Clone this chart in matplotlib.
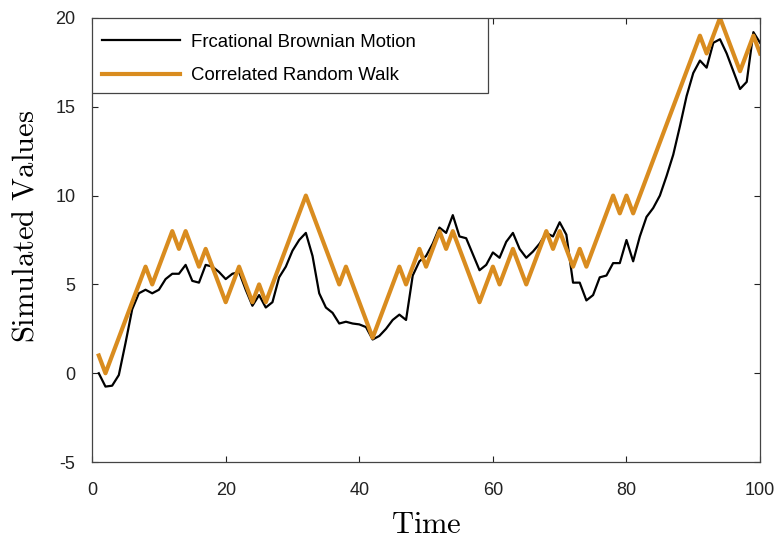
import numpy as np
import matplotlib
matplotlib.use("Agg")
import matplotlib.pyplot as plt
from matplotlib.patches import Rectangle

# time steps 1..100
time = np.arange(1, 101)

# fractional Brownian motion sample path
fbm = [
    0.0, -0.75, -0.7, -0.1, 1.7, 3.6, 4.5, 4.7, 4.5, 4.7,
    5.3, 5.6, 5.6, 6.1, 5.2, 5.1, 6.1, 6.0, 5.7, 5.3,
    5.6, 5.7, 4.7, 3.8, 4.4, 3.7, 4.0, 5.4, 6.0, 6.9,
    7.5, 7.9, 6.6, 4.5, 3.7, 3.4, 2.8, 2.9, 2.8, 2.75,
    2.6, 1.9, 2.1, 2.5, 3.0, 3.3, 3.0, 5.5, 6.3, 6.6,
    7.3, 8.2, 7.9, 8.9, 7.7, 7.6, 6.7, 5.8, 6.1, 6.8,
    6.5, 7.4, 7.9, 7.0, 6.5, 6.85, 7.3, 7.9, 7.7, 8.5,
    7.8, 5.1, 5.1, 4.1, 4.4, 5.4, 5.5, 6.2, 6.2, 7.5,
    6.3, 7.7, 8.8, 9.3, 10.0, 11.1, 12.3, 13.9, 15.6, 16.9,
    17.6, 17.2, 18.6, 18.8, 18.0, 17.0, 16.0, 16.4, 19.2, 18.6,
]

# correlated random walk, unit steps
crw = [
    1, 0, 1, 2, 3, 4, 5, 6, 5, 6,
    7, 8, 7, 8, 7, 6, 7, 6, 5, 4,
    5, 6, 5, 4, 5, 4, 5, 6, 7, 8,
    9, 10, 9, 8, 7, 6, 5, 6, 5, 4,
    3, 2, 3, 4, 5, 6, 5, 6, 7, 6,
    7, 8, 7, 8, 7, 6, 5, 4, 5, 6,
    5, 6, 7, 6, 5, 6, 7, 8, 7, 8,
    7, 6, 7, 6, 7, 8, 9, 10, 9, 10,
    9, 10, 11, 12, 13, 14, 15, 16, 17, 18,
    19, 18, 19, 20, 19, 18, 17, 18, 19, 18,
]

plt.rcParams["font.family"] = ["Liberation Sans", "DejaVu Sans"]
plt.rcParams["mathtext.fontset"] = "cm"
plt.rcParams["axes.unicode_minus"] = False

fig = plt.figure(figsize=(7.74, 5.43), dpi=100)
ax = fig.add_axes([0.119, 0.149, 0.863, 0.818])

ax.plot(time, fbm, color="black", lw=1.6, label="Frcational Brownian Motion")
ax.plot(time, crw, color="#D98C1F", lw=3.0, label="Correlated Random Walk")

ax.set_xlim(0, 100)
ax.set_ylim(-5, 20)
ax.set_xticks(np.arange(0, 101, 20))
ax.set_yticks(np.arange(-5, 21, 5))
ax.tick_params(direction="in", length=4, width=0.8, top=True, right=True,
               labelsize=13, colors="#222222")
ax.tick_params(axis="x", pad=14)
ax.tick_params(axis="y", pad=12)
for sp in ax.spines.values():
    sp.set_color("#444444")
    sp.set_linewidth(0.9)

ax.set_xlabel(r"$\mathrm{Time}$", fontsize=22, labelpad=8)
ax.set_ylabel(r"$\mathrm{Simulated\ Values}$", fontsize=22)
ax.yaxis.set_label_coords(-0.078, 0.53)

# legend entries without frame, box drawn separately (wide, square)
leg = ax.legend(loc="upper left", bbox_to_anchor=(0.015, 0.964), fontsize=13.4,
                frameon=False, borderaxespad=0, borderpad=0,
                handlelength=4.2, handletextpad=0.6, labelspacing=0.88)
ax.add_patch(Rectangle((0, 0.831), 0.593, 0.169, transform=ax.transAxes,
                       facecolor="white", edgecolor="#444444", lw=0.9,
                       zorder=4.5))
leg.set_zorder(5)

fig.savefig("out.png", dpi=100)
